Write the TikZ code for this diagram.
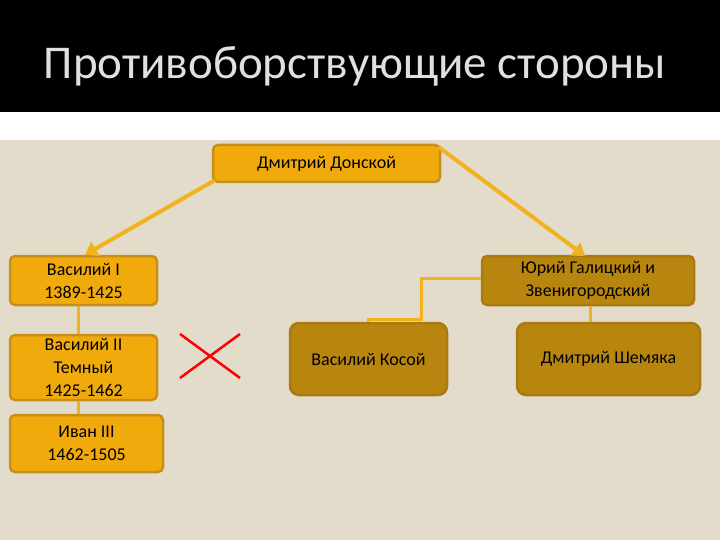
\documentclass[tikz,border=0pt]{standalone}
\usepackage{fontspec}
\setmainfont{Carlito}
\usetikzlibrary{arrows.meta,calc}
\definecolor{bg}{HTML}{E4DCCB}
\definecolor{gold}{HTML}{F0AA0C}
\definecolor{goldb}{HTML}{C58F1C}
\definecolor{dark}{HTML}{B8860E}
\definecolor{darkb}{HTML}{A87A10}
\definecolor{link}{HTML}{F2B21E}
\begin{document}
\begin{tikzpicture}[x=1pt,y=-1pt,
  box/.style={draw=goldb,line width=2.5pt,fill=gold,rounded corners=5pt,align=center,font=\fontsize{18}{23}\selectfont,inner sep=0pt},
  dbox/.style={box,draw=darkb,fill=dark,rounded corners=9pt},
  link/.style={draw=link,line width=4pt},
  arr/.style={link,-{Triangle[length=12pt,width=16pt]}}]
\useasboundingbox (0,0) rectangle (720,540);
\fill[bg] (0,0) rectangle (720,540);
\fill[black] (0,0) rectangle (720,112);
\fill[white] (0,112) rectangle (720,140);
\node[text=white!88!black,font=\fontsize{47}{50}\selectfont] (title) at (355,66) {Противоборствующие стороны};
\node[box,minimum width=227pt,minimum height=37pt] (dd) at (326.5,163.5) {Дмитрий Донской};
\node[box,minimum width=147pt,minimum height=49pt] (v1) at (83.5,280.5) {Василий I\\1389-1425};
\node[dbox,rounded corners=5pt,minimum width=212pt,minimum height=49pt] (yg) at (588,280.5) {Юрий Галицкий и\\Звенигородский};
\node[box,minimum width=147pt,minimum height=65pt] (v2) at (83.5,367.5) {Василий II\\Темный\\1425-1462};
\node[box,minimum width=153pt,minimum height=57pt] (i3) at (86.5,443.5) {Иван III\\1462-1505};
\node[dbox,minimum width=157pt,minimum height=72pt] (vk) at (368.5,359) {Василий Косой};
\node[dbox,minimum width=183pt,minimum height=72pt] (ds) at (608.5,359) {Дмитрий Шемяка};
\coordinate (xc) at (210,356);
\draw[red,line width=2.5pt] ($(xc)+(-30,-22)$) -- ($(xc)+(30,22)$) ($(xc)+(30,-22)$) -- ($(xc)+(-30,22)$);
\draw[arr] ([shift={(3,-3)}]dd.south west) -- (v1.north west -| 85,0);
\draw[arr] ([shift={(-3,3)}]dd.north east) -- (585,256);
\draw[link,line width=3pt] (v1.south -| 78,0) -- (v2.north -| 78,0);
\draw[link,line width=3pt] (v2.south -| 78,0) -- (i3.north -| 78,0);
\draw[link,line width=3pt] (yg.west |- 0,278) -| (421,319) -| (vk.north -| 368,0);
\draw[link,line width=3pt] (yg.south -| 590,0) -- (ds.north -| 590,0);
\end{tikzpicture}
\end{document}
